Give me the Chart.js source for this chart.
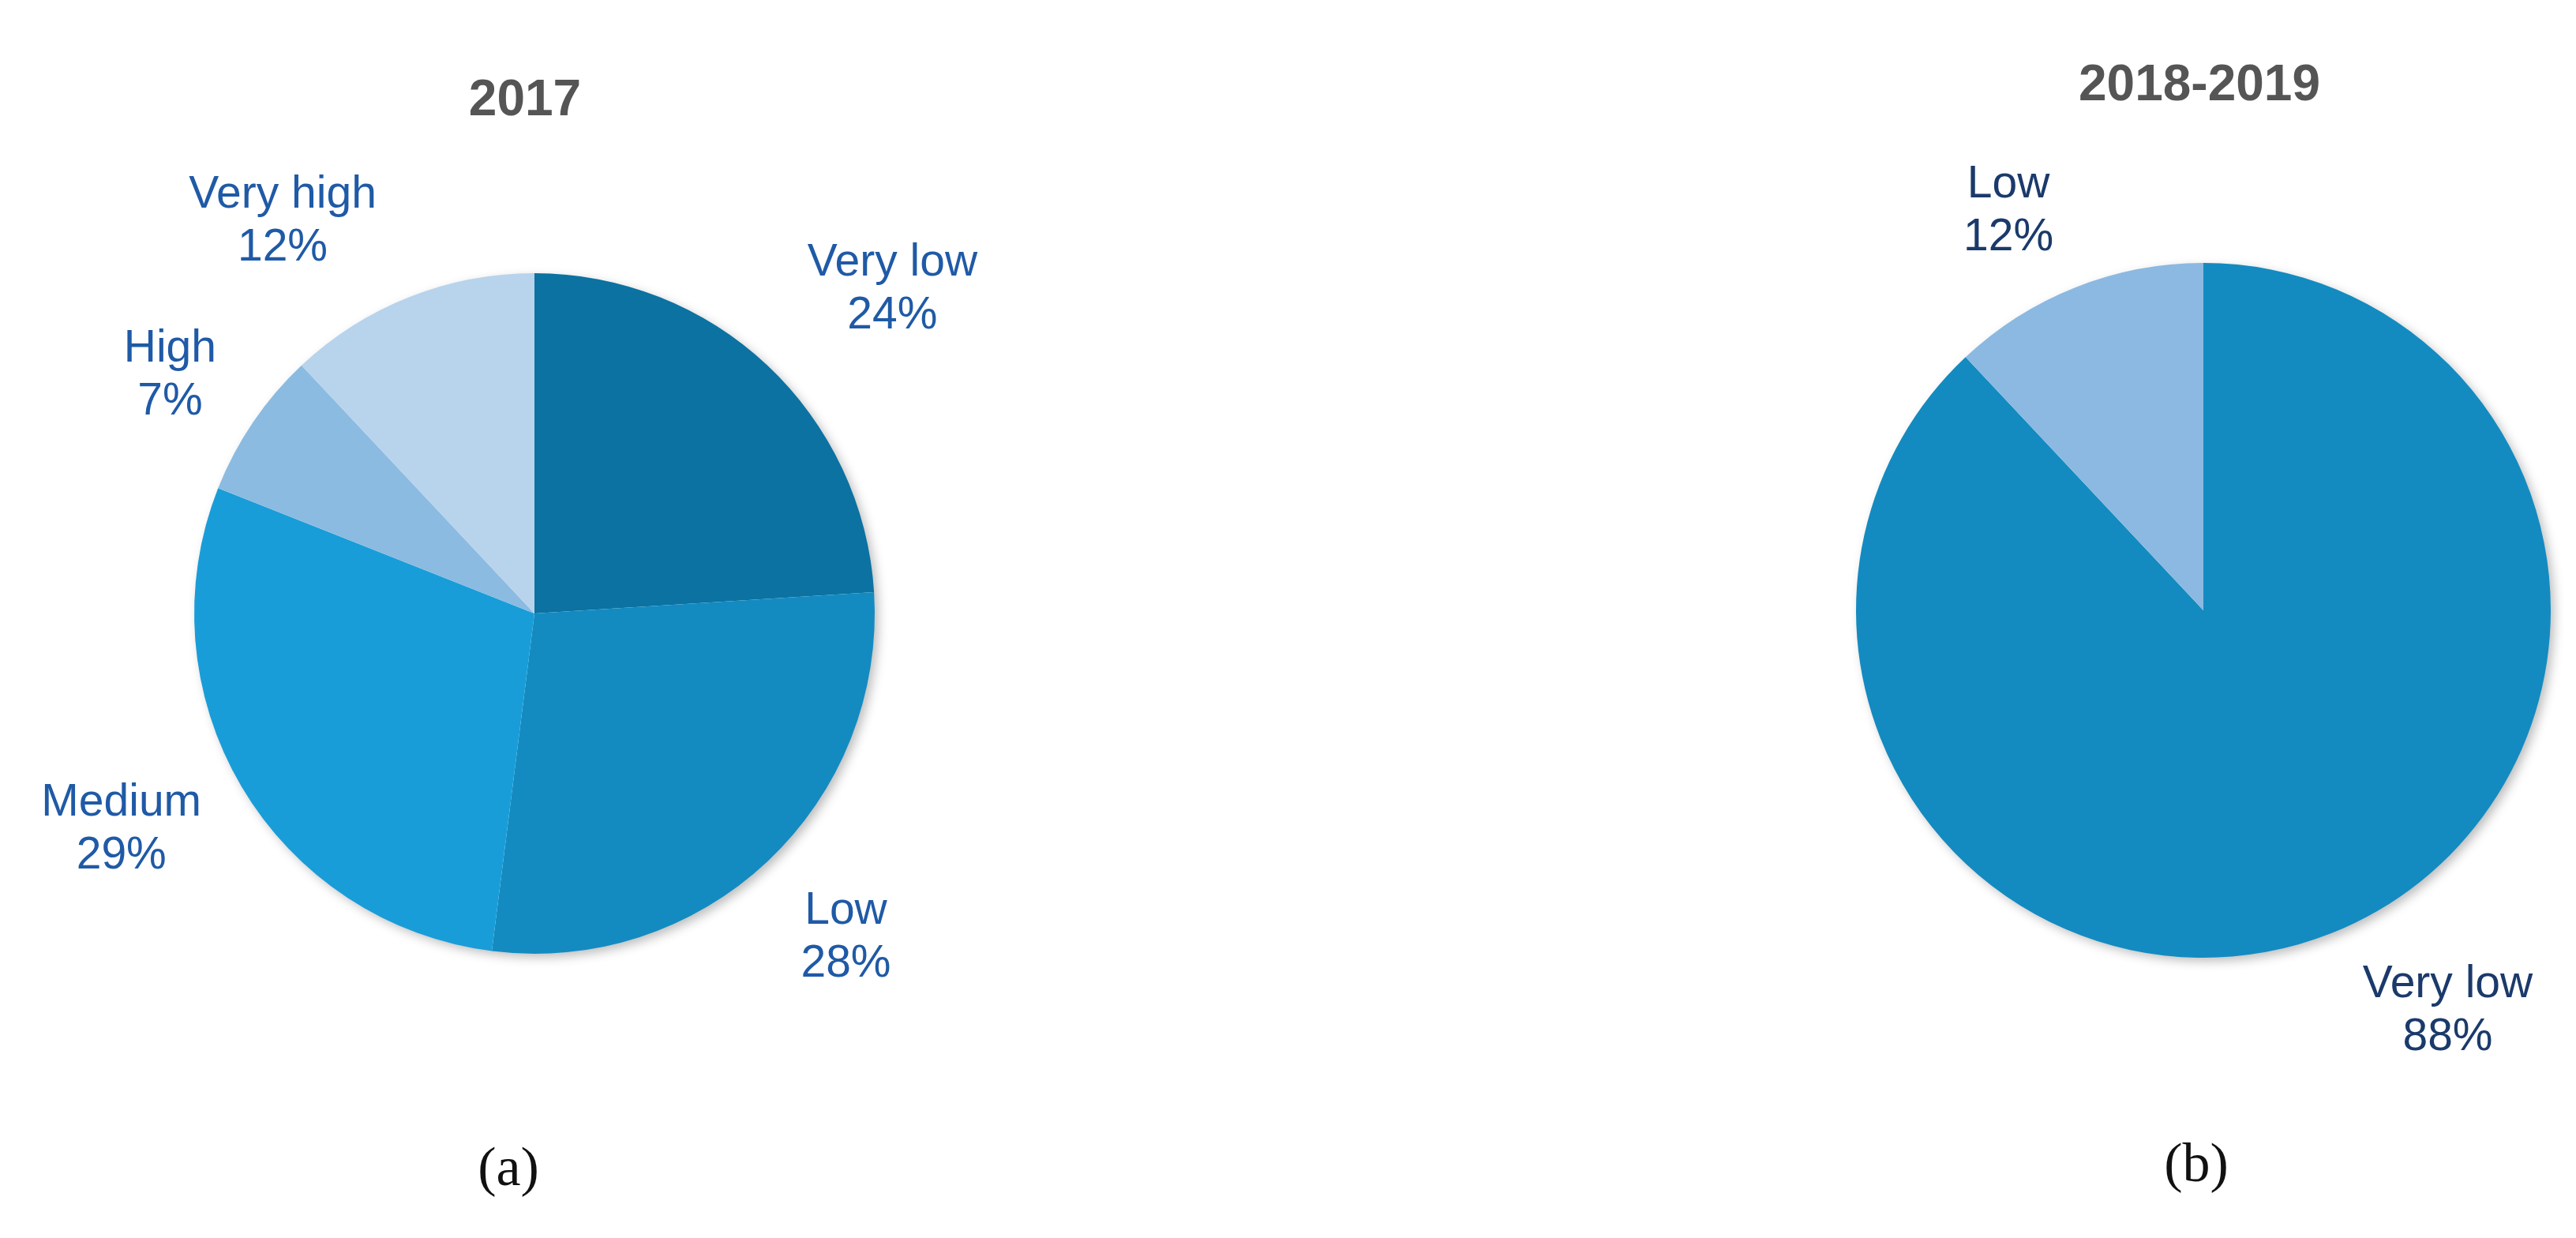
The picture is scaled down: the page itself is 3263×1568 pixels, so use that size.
<!DOCTYPE html>
<html>
<head>
<meta charset="utf-8">
<script src="https://cdn.jsdelivr.net/npm/chart.js@4.4.1/dist/chart.umd.min.js"></script>
<style>
  html, body { margin: 0; padding: 0; background: #ffffff; }
  body { width: 3263px; height: 1568px; position: relative; overflow: hidden; }
  .box { position: absolute; top: 0; height: 1568px; }
  #boxA { left: 0; width: 1630px; }
  #boxB { left: 1630px; width: 1633px; }
</style>
</head>
<body>
<div class="box" id="boxA"><canvas id="pie2017"></canvas></div>
<div class="box" id="boxB"><canvas id="pie2018"></canvas></div>
<script>
// data, 2017
const labels2017 = ['Very low', 'Low', 'Medium', 'High', 'Very high'];
const values2017 = [24, 28, 29, 7, 12];
// data, 2018-2019
const labels2018 = ['Very low', 'Low'];
const values2018 = [88, 12];

const titleA = '2017';
const titleB = '2018-2019';
const captionA = '(a)';
const captionB = '(b)';

// label placement: distance in radii, angle shift (deg) from slice middle
const placeA = [[1.42, 4.6], [1.32, -0.7], [1.37, 3], [1.28, -1], [1.37, -11.1]];
const placeB = [[1.35, -9.8], [1.28, -4.4]];

const labelFont = '57px "Liberation Sans", Arial, sans-serif';
const titleFont = 'bold 64px "Liberation Sans", Arial, sans-serif';
const captionFont = '70px "Liberation Serif", "Times New Roman", serif';

// soft shadow under the whole pie, taken from the arc geometry
const pieShadow = {
  id: 'pieShadow',
  beforeDatasetsDraw(chart) {
    const arc = chart.getDatasetMeta(0).data[0];
    if (!arc) return;
    const ctx = chart.ctx;
    ctx.save();
    ctx.shadowColor = 'rgba(0,0,0,0.28)';
    ctx.shadowBlur = 14;
    ctx.shadowOffsetX = 5;
    ctx.shadowOffsetY = 5;
    ctx.fillStyle = '#ffffff';
    ctx.beginPath();
    ctx.arc(arc.x, arc.y, arc.outerRadius - 1, 0, Math.PI * 2);
    ctx.fill();
    ctx.restore();
  }
};

const pieText = {
  id: 'pieText',
  afterDraw(chart, args, opts) {
    const ctx = chart.ctx;
    const meta = chart.getDatasetMeta(0);
    const lbls = chart.data.labels;
    const vals = chart.data.datasets[0].data;
    const total = vals.reduce((a, b) => a + b, 0);
    ctx.save();
    ctx.textAlign = 'center';
    ctx.textBaseline = 'middle';

    ctx.font = labelFont;
    ctx.fillStyle = opts.labelColor;
    meta.data.forEach((arc, i) => {
      const p = opts.place[i];
      const mid = (arc.startAngle + arc.endAngle) / 2 + p[1] * Math.PI / 180;
      const r = arc.outerRadius * p[0];
      const x = arc.x + Math.cos(mid) * r;
      const y = arc.y + Math.sin(mid) * r;
      const pct = Math.round(vals[i] / total * 100) + '%';
      ctx.fillText(lbls[i], x, y - 33);
      ctx.fillText(pct, x, y + 34);
    });

    ctx.font = titleFont;
    ctx.fillStyle = '#555555';
    ctx.fillText(opts.title, opts.titleX, opts.titleY);

    ctx.font = captionFont;
    ctx.fillStyle = '#111111';
    ctx.fillText(opts.caption, opts.capX, opts.capY);
    ctx.restore();
  }
};

function makePie(id, labels, values, colors, pad, textOpts) {
  return new Chart(document.getElementById(id), {
    type: 'pie',
    data: {
      labels: labels,
      datasets: [{
        data: values,
        backgroundColor: colors,
        borderWidth: 0,
        hoverOffset: 0
      }]
    },
    options: {
      responsive: true,
      maintainAspectRatio: false,
      animation: false,
      rotation: 0,
      layout: { padding: pad },
      plugins: {
        legend: { display: false },
        tooltip: { enabled: false },
        title: { display: false },
        pieText: textOpts
      }
    },
    plugins: [pieShadow, pieText]
  });
}

makePie('pie2017', labels2017, values2017,
  ['#0B72A2', '#138BC1', '#199DD9', '#8BBBE1', '#B8D3EC'],
  { left: 246, right: 522, top: 346, bottom: 360 },
  { place: placeA, labelColor: '#1F5AA6', title: titleA, titleX: 665, titleY: 128,
    caption: captionA, capX: 644, capY: 1483 });

makePie('pie2018', labels2018, values2018,
  ['#138BC1', '#8BB9E1'],
  { left: 721, right: 32, top: 333, bottom: 355 },
  { place: placeB, labelColor: '#1B3A6B', title: titleB, titleX: 1156, titleY: 109,
    caption: captionB, capX: 1152, capY: 1478 });
</script>
</body>
</html>
